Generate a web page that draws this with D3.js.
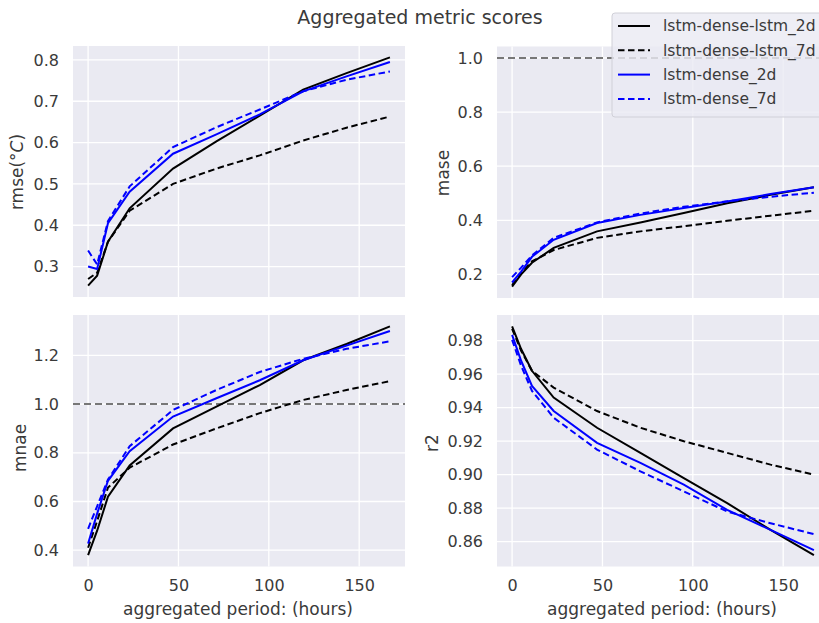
<!DOCTYPE html>
<html>
<head>
<meta charset="utf-8">
<script src="https://cdn.jsdelivr.net/npm/d3@7"></script>
<style>
  body { margin: 0; background: #fff; }
  text { font-family: "DejaVu Sans", sans-serif; fill: #3a3a3a; }
</style>
</head>
<body>
<svg id="chart" width="819" height="623"></svg>
<script>
// aggregation period (hours)
var hours = [0, 5, 11, 23, 47, 71, 95, 119, 143, 167];
var seriesNames = ["lstm-dense-lstm_2d", "lstm-dense-lstm_7d", "lstm-dense_2d", "lstm-dense_7d"];

// rmse
var rmseLdl2d = [0.254, 0.278, 0.36, 0.441, 0.537, 0.603, 0.665, 0.728, 0.768, 0.806];
var rmseLdl7d = [0.27, 0.285, 0.36, 0.435, 0.50, 0.537, 0.569, 0.605, 0.636, 0.663];
var rmseLd2d  = [0.30, 0.294, 0.405, 0.481, 0.573, 0.62, 0.668, 0.724, 0.76, 0.795];
var rmseLd7d  = [0.339, 0.305, 0.41, 0.494, 0.589, 0.637, 0.68, 0.724, 0.752, 0.772];
// mase
var maseLdl2d = [0.155, 0.20, 0.243, 0.298, 0.359, 0.392, 0.427, 0.463, 0.494, 0.522];
var maseLdl7d = [0.16, 0.205, 0.248, 0.29, 0.335, 0.359, 0.378, 0.398, 0.417, 0.435];
var maseLd2d  = [0.17, 0.21, 0.265, 0.328, 0.39, 0.42, 0.445, 0.469, 0.497, 0.522];
var maseLd7d  = [0.19, 0.225, 0.27, 0.335, 0.392, 0.425, 0.45, 0.47, 0.487, 0.502];
// mnae
var mnaeLdl2d = [0.38, 0.48, 0.62, 0.748, 0.90, 0.99, 1.078, 1.18, 1.247, 1.319];
var mnaeLdl7d = [0.41, 0.52, 0.657, 0.739, 0.834, 0.90, 0.963, 1.017, 1.058, 1.094];
var mnaeLd2d  = [0.427, 0.55, 0.685, 0.807, 0.949, 1.024, 1.098, 1.18, 1.24, 1.30];
var mnaeLd7d  = [0.488, 0.58, 0.69, 0.827, 0.976, 1.058, 1.132, 1.186, 1.227, 1.258];
// r2
var r2Ldl2d = [0.9885, 0.975, 0.962, 0.946, 0.928, 0.913, 0.898, 0.883, 0.867, 0.852];
var r2Ldl7d = [0.987, 0.974, 0.962, 0.952, 0.938, 0.928, 0.920, 0.913, 0.906, 0.900];
var r2Ld2d  = [0.9835, 0.968, 0.953, 0.938, 0.919, 0.907, 0.894, 0.879, 0.867, 0.855];
var r2Ld7d  = [0.9805, 0.965, 0.950, 0.934, 0.915, 0.902, 0.890, 0.878, 0.871, 0.8645];

var xTicks = [0, 50, 100, 150];
var rmseTicks = [0.3, 0.4, 0.5, 0.6, 0.7, 0.8];
var maseTicks = [0.2, 0.4, 0.6, 0.8, 1.0];
var mnaeTicks = [0.4, 0.6, 0.8, 1.0, 1.2];
var r2Ticks = [0.86, 0.88, 0.90, 0.92, 0.94, 0.96, 0.98];

var colors = ["#000", "#000", "#0000ff", "#0000ff"];
var dashes = [null, "6.5,3.5", null, "6.5,3.5"];

var svg = d3.select("#chart");

var panels = [
  {left: 73, top: 46, w: 332, h: 251, series: [rmseLdl2d, rmseLdl7d, rmseLd2d, rmseLd7d], ticks: rmseTicks, fmt: ".1f", label: "rmse", unit: true, hline: null, xlabels: false, lx: 17, ly: 172},
  {left: 497, top: 46.5, w: 332, h: 251.5, series: [maseLdl2d, maseLdl7d, maseLd2d, maseLd7d], ticks: maseTicks, fmt: ".1f", label: "mase", hline: 1.0, xlabels: false, lx: 443, ly: 173},
  {left: 73, top: 315, w: 332, h: 251.5, series: [mnaeLdl2d, mnaeLdl7d, mnaeLd2d, mnaeLd7d], ticks: mnaeTicks, fmt: ".1f", label: "mnae", hline: 1.0, xlabels: true, lx: 20, ly: 448},
  {left: 497, top: 315, w: 332, h: 251.5, series: [r2Ldl2d, r2Ldl7d, r2Ld2d, r2Ld7d], ticks: r2Ticks, fmt: ".2f", label: "r2", hline: null, xlabels: true, lx: 432, ly: 443}
];

// x scale with matplotlib-like 5% margins
var xExt = d3.extent(hours);
var xPad = (xExt[1] - xExt[0]) * 0.05;

panels.forEach(function(p) {
  var g = svg.append("g").attr("transform", "translate(" + p.left + "," + p.top + ")");

  var x = d3.scaleLinear().domain([xExt[0] - xPad, xExt[1] + xPad]).range([0, p.w]);

  var all = d3.merge(p.series);
  if (p.hline !== null) all.push(p.hline);
  var yExt = d3.extent(all);
  var yPad = (yExt[1] - yExt[0]) * 0.05;
  var y = d3.scaleLinear().domain([yExt[0] - yPad, yExt[1] + yPad]).range([p.h, 0]);

  g.append("rect").attr("width", p.w).attr("height", p.h).attr("fill", "#eaeaf2");

  // grid
  g.selectAll(".gx").data(xTicks).enter().append("line")
    .attr("x1", function(d) { return x(d); }).attr("x2", function(d) { return x(d); })
    .attr("y1", 0).attr("y2", p.h)
    .attr("stroke", "#fff").attr("stroke-width", 1.3);
  g.selectAll(".gy").data(p.ticks).enter().append("line")
    .attr("y1", function(d) { return y(d); }).attr("y2", function(d) { return y(d); })
    .attr("x1", 0).attr("x2", p.w)
    .attr("stroke", "#fff").attr("stroke-width", 1.3);

  // y axis
  var ya = g.append("g")
    .call(d3.axisLeft(y).tickValues(p.ticks).tickSize(0).tickPadding(14).tickFormat(d3.format(p.fmt)));
  ya.select(".domain").remove();
  ya.selectAll("text").style("font-size", "16px").attr("fill", "#3a3a3a").attr("font-family", "DejaVu Sans");

  if (p.xlabels) {
    var xa = g.append("g").attr("transform", "translate(0," + p.h + ")")
      .call(d3.axisBottom(x).tickValues(xTicks).tickSize(0).tickPadding(13));
    xa.select(".domain").remove();
    xa.selectAll("text").style("font-size", "16px").attr("fill", "#3a3a3a").attr("font-family", "DejaVu Sans");
    g.append("text")
      .attr("x", p.w / 2 - 1).attr("y", p.h + 48)
      .attr("text-anchor", "middle").style("font-size", "17px")
      .text("aggregated period: (hours)");
  }

  if (p.hline !== null) {
    g.append("line")
      .attr("x1", 0).attr("x2", p.w)
      .attr("y1", y(p.hline)).attr("y2", y(p.hline))
      .attr("stroke", "#777").attr("stroke-width", 2).attr("stroke-dasharray", "7,4");
  }

  var line = d3.line().x(function(d, i) { return x(hours[i]); }).y(function(d) { return y(d); });
  p.series.forEach(function(s, k) {
    g.append("path").datum(s)
      .attr("d", line).attr("fill", "none")
      .attr("stroke", colors[k]).attr("stroke-width", 2)
      .attr("stroke-dasharray", dashes[k]);
  });

  // y label
  var lab = svg.append("text")
    .attr("transform", "translate(" + p.lx + "," + p.ly + ") rotate(-90)")
    .attr("text-anchor", "middle").attr("dy", "0.35em")
    .style("font-size", "17px");
  lab.append("tspan").text(p.label);
  if (p.unit) {
    lab.append("tspan").text("(°");
    lab.append("tspan").style("font-style", "italic").text("C");
    lab.append("tspan").text(")");
  }
});

// title
svg.append("text").attr("x", 420).attr("y", 24).attr("text-anchor", "middle")
  .style("font-size", "19px").text("Aggregated metric scores");

// legend
var leg = svg.append("g").attr("transform", "translate(612,13)");
leg.append("rect").attr("width", 215).attr("height", 104).attr("rx", 3)
  .attr("fill", "#eaeaf2").attr("fill-opacity", 0.8).attr("stroke", "#d0d0d8").attr("stroke-width", 1);
seriesNames.forEach(function(n, k) {
  var yy = 13 + k * 24.3;
  leg.append("line").attr("x1", 6).attr("x2", 38).attr("y1", yy).attr("y2", yy)
    .attr("stroke", colors[k]).attr("stroke-width", 2).attr("stroke-dasharray", dashes[k]);
  leg.append("text").attr("x", 51).attr("y", yy).attr("dy", "0.35em")
    .style("font-size", "15.5px").text(n);
});
</script>
</body>
</html>
